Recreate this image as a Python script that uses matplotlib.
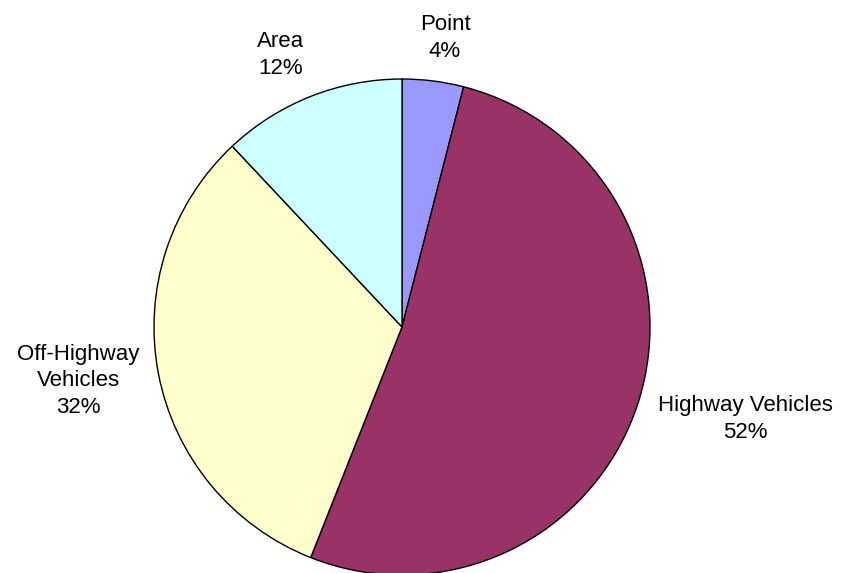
import matplotlib.pyplot as plt

# data
labels = ["Point", "Highway Vehicles", "Off-Highway\nVehicles", "Area"]
shares = [4, 52, 32, 12]
colors = ["#9999FF", "#993366", "#FFFFCC", "#CCFFFF"]

W, H = 843, 573
fig = plt.figure(figsize=(W / 100, H / 100), dpi=100)
ax = fig.add_axes([0, 0, 1, 1])

cx, cy, r = 402, H - 327, 248
ax.pie(shares, colors=colors, startangle=90, counterclock=False,
       center=(cx, cy), radius=r, frame=True,
       wedgeprops=dict(edgecolor="black", linewidth=1.0))
ax.set_xlim(0, W)
ax.set_ylim(0, H)
ax.set_aspect("equal")
ax.axis("off")

# label positions (pixel centres, y from the top)
label_pos = [(445, 38), (745, 419), (78, 381), (281, 55)]
for lab, val, (px, py) in zip(labels, shares, label_pos):
    ax.text(px, H - py, f"{lab}\n{val}%", ha="center", va="center",
            fontsize=16, family="Liberation Sans", linespacing=1.33)

fig.savefig("out.png", dpi=100)
